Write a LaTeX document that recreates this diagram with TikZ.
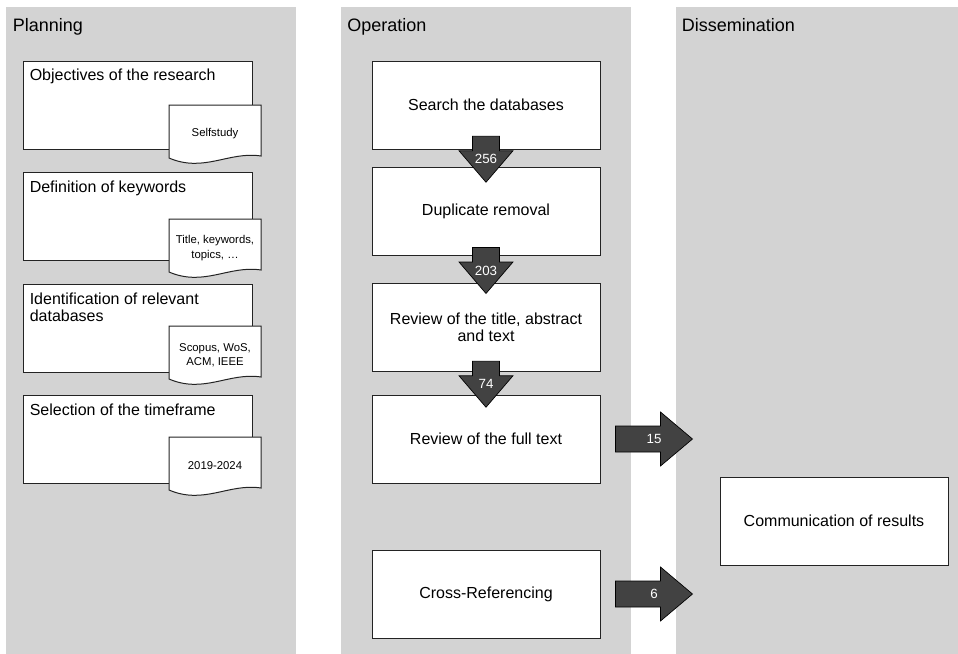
\documentclass[tikz,border=0pt]{standalone}
\usepackage{fontspec}
\setmainfont{Liberation Sans}
\usetikzlibrary{calc}
\definecolor{panel}{RGB}{211,211,211}
\definecolor{arrowgray}{RGB}{66,66,66}
\definecolor{edge}{RGB}{35,35,35}
\newcommand\docshape[4]{%
  \draw[docbox] (#2,#3) -- (#2+92,#3) -- (#2+92,#3+51)
    .. controls (#2+60,#3+46) and (#2+35,#3+68) .. (#2,#3+53) -- cycle;
  \node[doctext] (#1) at (#2+46,#3+29) {#4};}
\newcommand\dnarrow[4]{%
  \coordinate (#1c) at ($(#2.south)!0.5!(#3.north)+(0,1)$);
  \draw[arrowshape] (#1c) ++(-13.5,-23) -- ++(27,0) -- ++(0,14.5) -- ++(13.5,0)
    -- ++(-27,31.5) -- ++(-27,-31.5) -- ++(13.5,0) -- cycle;
  \node[arrowlabel] (#1) at (#1c) {#4};}
\newcommand\rtarrow[3]{%
  \coordinate (#1s) at ($(#2.east)+(15,0)$);
  \draw[arrowshape] (#1s) ++(0,-13) -- ++(45,0) -- ++(0,-14) -- ++(32,27)
    -- ++(-32,27) -- ++(0,-14) -- ++(-45,0) -- cycle;
  \node[arrowlabel] (#1) at ($(#1s)+(38.5,0)$) {#3};}
\begin{document}
\begin{tikzpicture}[x=0.75pt,y=-0.75pt,
  lane/.style={font=\fontsize{13.5pt}{16pt}\selectfont, anchor=base west, inner sep=0pt},
  box/.style={draw=edge, line width=0.75pt, fill=white, minimum width=228*0.75pt,
    minimum height=88*0.75pt, inner sep=0pt, align=center,
    font=\fontsize{12pt}{12.5pt}\selectfont},
  ptitle/.style={anchor=base west, inner sep=0pt, align=left,
    font=\fontsize{12pt}{12.5pt}\selectfont},
  docbox/.style={draw=edge, fill=white, line width=0.75pt},
  doctext/.style={font=\fontsize{8.5pt}{10.7pt}\selectfont, align=center, inner sep=0pt},
  arrowshape/.style={fill=arrowgray, draw=black, line width=0.5pt},
  arrowlabel/.style={text=white, font=\fontsize{10pt}{12pt}\selectfont, inner sep=0pt}]
\useasboundingbox (0,0) rectangle (958,654);
% lanes
\fill[panel] (6,7) rectangle (296,654);
\fill[panel] (341,7) rectangle (631,654);
\fill[panel] (676,7) rectangle (958,654);
\node[lane] (lp) at (12.5,31) {Planning};
\node[lane] (lo) at (347,31) {Operation};
\node[lane] (ld) at (681.5,31) {Dissemination};
% planning
\node[box, minimum width=229*0.75pt] (p1) at (137.5,105) {};
\node[ptitle] (p1t) at ($(p1.north west)+(7,20)$) {Objectives of the research};
\docshape{d1}{169}{105}{Selfstudy}
\node[box, minimum width=229*0.75pt] (p2) at (137.5,216) {};
\node[ptitle] (p2t) at ($(p2.north west)+(7,20.5)$) {Definition of keywords};
\docshape{d2}{169}{219}{Title, keywords,\\topics, \dots}
\node[box, minimum width=229*0.75pt] (p3) at (137.5,328) {};
\node[ptitle] (p3t) at ($(p3.north west)+(7,38)$) {Identification of relevant\\databases};
\docshape{d3}{169}{326}{Scopus, WoS,\\ACM, IEEE}
\node[box, minimum width=229*0.75pt] (p4) at (137.5,439) {};
\node[ptitle] (p4t) at ($(p4.north west)+(7,20.5)$) {Selection of the timeframe};
\docshape{d4}{169}{437}{2019-2024}
% operation
\node[box] (o1) at (486,105) {Search the databases};
\node[box] (o2) at (486,211.5) {Duplicate removal};
\node[box] (o3) at (486,327.5) {Review of the title, abstract\\and text};
\node[box] (o4) at (486,439) {Review of the full text};
\node[box] (o5) at (486,594) {Cross-Referencing};
% dissemination
\node[box] (c1) at (834,521) {Communication of results};
% arrows
\dnarrow{a1}{o1}{o2}{256}
\dnarrow{a2}{o2}{o3}{203}
\dnarrow{a3}{o3}{o4}{74}
\rtarrow{a4}{o4}{15}
\rtarrow{a5}{o5}{6}
\end{tikzpicture}
\end{document}
